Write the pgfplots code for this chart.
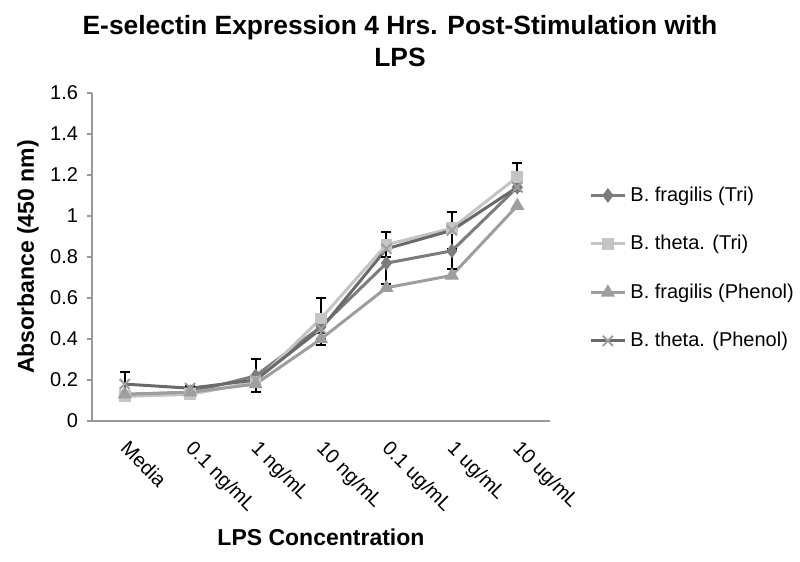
\documentclass[border=0pt]{standalone}
\usepackage{pgfplots}
\pgfplotsset{compat=1.18}
\usepackage{fontspec}
\setmainfont{Liberation Sans}
\definecolor{cA}{HTML}{7C7C7C}
\definecolor{cB}{HTML}{C4C4C4}
\definecolor{cC}{HTML}{9E9E9E}
\definecolor{cD}{HTML}{6A6A6A}
\begin{document}
\begin{tikzpicture}
\useasboundingbox (-46pt,-70.5pt) rectangle (354pt,210.5pt);
\begin{axis}[
  at={(0,0)}, anchor=south west,
  scale only axis, width=229pt, height=164pt,
  xmin=-0.5, xmax=6.5, ymin=0, ymax=1.6,
  ytick={0,0.2,0.4,0.6,0.8,1,1.2,1.4,1.6},
  xtick={0,1,2,3,4,5,6},
  xticklabels={Media,0.1 ng/mL,1 ng/mL,10 ng/mL,0.1 ug/mL,1 ug/mL,10 ug/mL},
  axis x line*=bottom, axis y line*=left,
  axis line style={-, gray!80, line width=0.6pt},
  xtick style={draw=none},
  ytick style={gray!80, line width=0.6pt},
  tick align=outside, major tick length=2.5pt,
  /pgf/number format/.cd, fixed, assume math mode=true, /pgfplots/.cd,
  ticklabel style={font=\fontsize{10}{12}\selectfont},
  yticklabel style={xshift=-1pt},
  xticklabel shift=9pt,
  xticklabel style={rotate=-45, anchor=north west, inner sep=1pt, xshift=-1pt, yshift=4.6pt},
  xlabel={LPS Concentration},
  ylabel={Absorbance (450 nm)},
  label style={font=\bfseries\fontsize{11.5}{13}\selectfont},
  xlabel style={at={(axis description cs:0.5,0)}, anchor=center, yshift=-58pt},
  ylabel style={at={(axis description cs:-0.1397,0.5)}, anchor=center},
  legend style={at={(rel axis cs:1.085,0.74)}, anchor=north west, draw=none, fill=none,
    font=\fontsize{10}{12}\selectfont, row sep=11.5pt, inner xsep=0pt},
  legend cell align=left,
  every axis plot/.append style={line width=1.5pt},
]
\addplot[color=cA, mark=diamond*, mark size=3.3pt, mark options={fill=cA, draw=cA, line width=0.5pt}]
  coordinates {(0,0.13) (1,0.14) (2,0.22) (3,0.46) (4,0.77) (5,0.83) (6,1.14)};
\addlegendentry{B. fragilis (Tri)}
\addplot[color=cB, mark=square*, mark size=2.7pt, mark options={fill=cB, draw=cB, line width=0.5pt}]
  coordinates {(0,0.12) (1,0.13) (2,0.19) (3,0.50) (4,0.86) (5,0.94) (6,1.19)};
\addlegendentry{B. theta. (Tri)}
\addplot[color=cC, mark=triangle*, mark size=3.6pt, mark options={fill=cC, draw=cC, line width=0.5pt}]
  coordinates {(0,0.13) (1,0.14) (2,0.18) (3,0.40) (4,0.65) (5,0.71) (6,1.05)};
\addlegendentry{B. fragilis (Phenol)}
\addplot[color=cD, mark=x, mark size=3.6pt, mark options={draw=gray!75, line width=1pt}]
  coordinates {(0,0.18) (1,0.16) (2,0.20) (3,0.45) (4,0.84) (5,0.93) (6,1.14)};
\addlegendentry{B. theta. (Phenol)}
% error bars
\addplot[draw=none, forget plot, error bars/.cd, y dir=both, y explicit,
  error bar style={black, line width=1pt},
  error mark options={rotate=90, black, mark size=2.5pt, line width=1pt}]
  coordinates {(2,0.22) +- (0,0.08) (4,0.77) +- (0,0.10) (5,0.83) +- (0,0.09)};
\addplot[draw=none, forget plot, error bars/.cd, y dir=both, y explicit,
  error bar style={black, line width=1pt},
  error mark options={rotate=90, black, mark size=2.5pt, line width=1pt}]
  coordinates {(3,0.50) +- (0,0.10) (4,0.86) +- (0,0.06) (6,1.19) +- (0,0.07)};
\addplot[draw=none, forget plot, error bars/.cd, y dir=both, y explicit,
  error bar style={black, line width=1pt},
  error mark options={rotate=90, black, mark size=2.5pt, line width=1pt}]
  coordinates {(3,0.40) +- (0,0.03)};
\addplot[draw=none, forget plot, error bars/.cd, y dir=both, y explicit,
  error bar style={black, line width=1pt},
  error mark options={rotate=90, black, mark size=2.5pt, line width=1pt}]
  coordinates {(0,0.18) +- (0,0.06) (1,0.16) +- (0,0.01) (5,0.93) +- (0,0.09)};
\end{axis}
\node[align=center, font=\bfseries\fontsize{13.2}{16}\selectfont] at (154pt,190pt)
  {E-selectin Expression 4 Hrs. Post-Stimulation with\\LPS};
\end{tikzpicture}
\end{document}
